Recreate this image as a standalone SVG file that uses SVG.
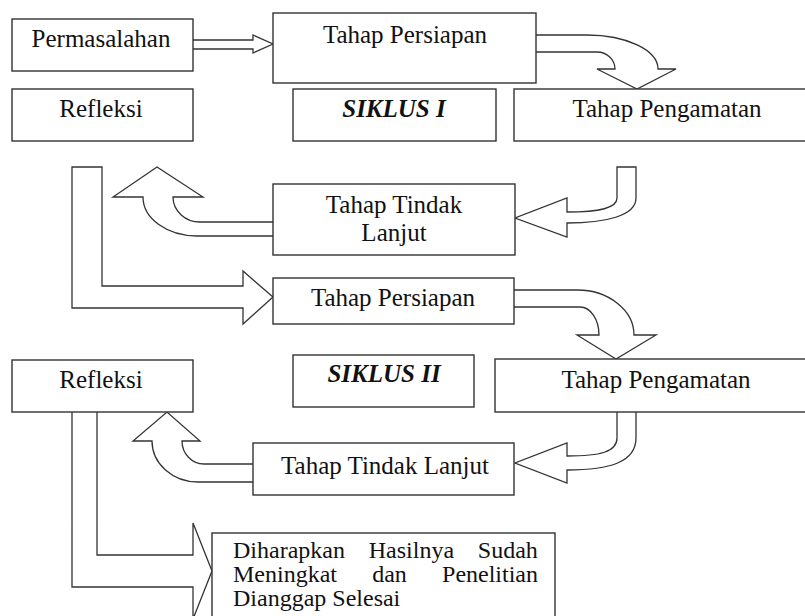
<svg xmlns="http://www.w3.org/2000/svg" width="805" height="616" viewBox="0 0 805 616">
  <style>
    .box { fill: #ffffff; stroke: #333333; stroke-width: 1.4; }
    .arrow { fill: #ffffff; stroke: #333333; stroke-width: 1.3; stroke-linejoin: miter; }
    .t { font-family: 'Liberation Serif', 'Times New Roman', Times, serif; font-size: 25px; fill: #111111; }
    .s { font-size: 24px; }
    .c { text-anchor: middle; }
    .bi { font-weight: bold; font-style: italic; }
  </style>
  <rect width="805" height="616" fill="#ffffff"/>

  <!-- block arrows -->
  <g id="connectors">
    <path class="arrow" d="M193,40 H253 V35 L273,44 L253,53 V49 H193"/>
    <path class="arrow" d="M536,35 H587 A71,34 0 0 1 658,69 H676 L637,89 L597,69 H615 A18,17 0 0 0 597,52 H536"/>
    <path class="arrow" d="M617,167 H636 V198 C636,216 605,223 567,223 V237 L515,218 L567,198 V212 C600,212 617,208 617,198 Z"/>
    <path class="arrow" d="M273,222 H200 A27,25 0 0 1 173,197 H203 L157,167 L113,197 H143 A54,39 0 0 0 197,236 H273"/>
    <path class="arrow" d="M72,167 H102 V286 H243 V271 L273,297 L243,324 V308 H72 Z"/>
    <path class="arrow" d="M514,290 H577 A57,45 0 0 1 634,335 H656 L616,359 L577,335 H599 A19,28 0 0 0 580,307 H514"/>
    <path class="arrow" d="M617,412 V438 C617,452 600,456 567,456 V443 L515,463 L567,483 V470 C610,470 636,462 636,438 V412"/>
    <path class="arrow" d="M253,464 H204 A22,23 0 0 1 182,441 H200 L167,412 L133,441 H152 A46,41 0 0 0 198,482 H253"/>
    <path class="arrow" d="M97,412 V555 H193 V523 L212,571 L193,619 V587 H72 V412"/>
  </g>

  <g id="permasalahan">
    <rect class="box" x="12" y="19" width="181" height="52"/>
    <text class="t c" x="101" y="47">Permasalahan</text>
  </g>
  <g id="persiapan1">
    <rect class="box" x="273" y="13" width="263" height="70"/>
    <text class="t c" x="405" y="43">Tahap Persiapan</text>
  </g>
  <g id="refleksi1">
    <rect class="box" x="12" y="89" width="181" height="52"/>
    <text class="t c" x="101" y="117">Refleksi</text>
  </g>
  <g id="siklus1">
    <rect class="box" x="293" y="89" width="203" height="52"/>
    <text class="t c bi" x="394" y="117">SIKLUS I</text>
  </g>
  <g id="pengamatan1">
    <rect class="box" x="514" y="89" width="300" height="52"/>
    <text class="t c" x="667" y="117">Tahap Pengamatan</text>
  </g>
  <g id="tindaklanjut1">
    <rect class="box" x="273" y="184" width="242" height="71"/>
    <text class="t c" x="394" y="213">Tahap Tindak</text>
    <text class="t c" x="394" y="241">Lanjut</text>
  </g>
  <g id="persiapan2">
    <rect class="box" x="273" y="278" width="241" height="46"/>
    <text class="t c" x="393" y="306">Tahap Persiapan</text>
  </g>
  <g id="refleksi2">
    <rect class="box" x="12" y="360" width="181" height="52"/>
    <text class="t c" x="101" y="388">Refleksi</text>
  </g>
  <g id="siklus2">
    <rect class="box" x="293" y="355" width="181" height="52"/>
    <text class="t c bi" x="384" y="382">SIKLUS II</text>
  </g>
  <g id="pengamatan2">
    <rect class="box" x="495" y="359" width="319" height="53"/>
    <text class="t c" x="656" y="388">Tahap Pengamatan</text>
  </g>
  <g id="tindaklanjut2">
    <rect class="box" x="253" y="443" width="261" height="52"/>
    <text class="t c" x="385" y="474">Tahap Tindak Lanjut</text>
  </g>
  <g id="hasil">
    <rect class="box" x="212" y="533" width="343" height="90"/>
    <!-- justified lines: widened word spacing -->
    <text class="t s" x="233" y="558" word-spacing="17.8">Diharapkan Hasilnya Sudah</text>
    <text class="t s" x="233" y="582" word-spacing="29.2">Meningkat dan Penelitian</text>
    <text class="t s" x="233" y="606">Dianggap Selesai</text>
  </g>
</svg>
